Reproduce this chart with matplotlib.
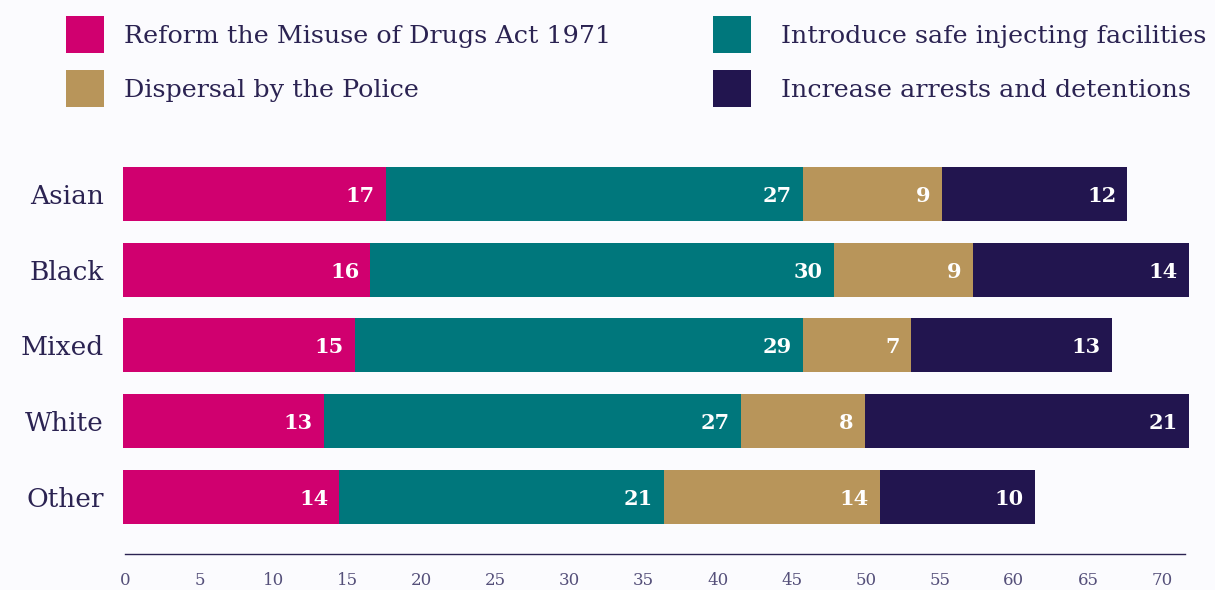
import matplotlib
matplotlib.use("Agg")
import matplotlib.pyplot as plt

categories = ["Asian", "Black", "Mixed", "White", "Other"]
series_names = ["Reform the Misuse of Drugs Act 1971", "Introduce safe injecting facilities",
                "Dispersal by the Police", "Increase arrests and detentions"]
reform = [17, 16, 15, 13, 14]
injecting = [27, 30, 29, 27, 21]
dispersal = [9, 9, 7, 8, 14]
arrests = [12, 14, 13, 21, 10]
tick_values = [0, 5, 10, 15, 20, 25, 30, 35, 40, 45, 50, 55, 60, 65, 70]

colors = ["#d0006f", "#00777c", "#b8955a", "#22154f"]
bg = "#fbfbfe"
text_col = "#2b2352"
tick_col = "#55507a"
serif = ["DejaVu Serif"]

W, H = 1215, 590
fig = plt.figure(figsize=(W / 100, H / 100), dpi=100, facecolor=bg)

left_px, right_px = 123, 1189
top_px, bot_px = 148.5, 554
ax = fig.add_axes([left_px / W, 1 - bot_px / H, (right_px - left_px) / W, (bot_px - top_px) / H])
ax.set_facecolor("none")

series = [reform, injecting, dispersal, arrests]
ypos = list(range(len(categories)))
lefts = [0] * len(categories)
handles = []
for vals, col, name in zip(series, colors, series_names):
    bars = ax.barh(ypos, vals, left=lefts, height=0.713, color=col, label=name, linewidth=0)
    handles.append(bars)
    for y, l, v in zip(ypos, lefts, vals):
        ax.annotate(str(v), xy=(l + v, y), xytext=(-11, 0), textcoords="offset pixels",
                    ha="right", va="center_baseline", color="white", fontsize=15,
                    fontweight="bold", family=serif)
    lefts = [a + b for a, b in zip(lefts, vals)]

total_max = max(lefts)
ax.set_xlim(0, total_max)
ax.set_ylim((bot_px - 194) / 75.75, -0.6)
ax.set_yticks(ypos)
ax.set_yticklabels(categories, family=serif, fontsize=19, color=text_col)
ax.tick_params(axis="y", length=0, pad=14)
ax.set_xticks([])
for s in ax.spines.values():
    s.set_visible(False)

# value axis (its own scale, as in the reference)
px_per_unit = (1162 - 273.5) / 60
zero_px = 125.4
ax2 = ax.twiny()
ax2.set_xlim((left_px - zero_px) / px_per_unit, (right_px - zero_px) / px_per_unit)
ax2.xaxis.set_ticks_position("bottom")
ax2.set_xticks(tick_values)
ax2.set_xticklabels([str(t) for t in tick_values], family=serif, fontsize=12, color=tick_col)
ax2.tick_params(axis="x", length=0, pad=13)
for k in ["top", "left", "right"]:
    ax2.spines[k].set_visible(False)
ax2.spines["bottom"].set_color("#2b2352")
ax2.spines["bottom"].set_linewidth(1.0)
ax2.spines["bottom"].set_bounds(0, (1185 - zero_px) / px_per_unit)

# legend (two columns)
fs = 18.25
leg_kw = dict(frameon=False, handlelength=1.5, handleheight=1.87,
              labelspacing=0.67, borderpad=0, borderaxespad=0,
              labelcolor=text_col, prop={"family": serif, "size": fs})
leg1 = fig.legend([handles[0], handles[2]], [series_names[0], series_names[2]],
                  loc="upper left", bbox_to_anchor=(66 / W, 1 - 16 / H),
                  handletextpad=0.78, **leg_kw)
leg2 = fig.legend([handles[1], handles[3]], [series_names[1], series_names[3]],
                  loc="upper left", bbox_to_anchor=(713 / W, 1 - 16 / H),
                  handletextpad=1.18, **leg_kw)

fig.savefig("out.png", dpi=100, facecolor=bg)
